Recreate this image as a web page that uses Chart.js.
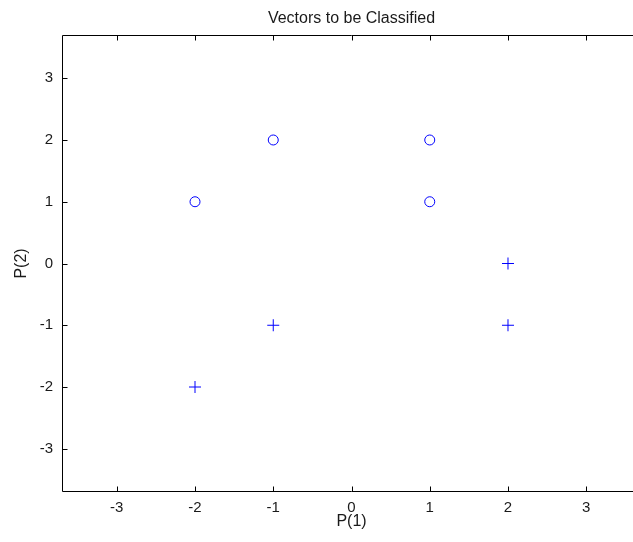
<!DOCTYPE html>
<html>
<head>
<meta charset="utf-8">
<script src="https://cdn.jsdelivr.net/npm/chart.js@4"></script>
<style>
  html, body { margin: 0; padding: 0; background: #fff; overflow: hidden; }
  #wrap { width: 633px; height: 542px; overflow: hidden; }
  canvas { display: block; background: #fff; }
</style>
</head>
<body>
<div id="wrap"><canvas id="chart" width="648" height="542"></canvas></div>
<script>
// class 1 vectors (circles) and class 0 vectors (plus signs)
const circleX = [-2, -1, 1, 1];
const circleY = [1, 2, 2, 1];
const plusX = [-2, -1, 2, 2];
const plusY = [-2, -1, 0, -1];
const tickValues = [-3, -2, -1, 0, 1, 2, 3];
const axisMin = -3.7;
const axisMax = 3.7;

const blue = 'rgb(0,0,255)';
const textColor = '#1a1a1a';
const family = '"Liberation Sans", Arial, sans-serif';
const tickFont = { family: '"Liberation Sans Narrow", "Liberation Sans", Arial, sans-serif', size: 15 };
const labelFont = { family: family, size: 16 };

function toPoints(xs, ys) {
    return xs.map((x, i) => ({ x: x, y: ys[i] }));
}

function integerTicks(s) {
    s.ticks = tickValues.map(v => ({ value: v }));
}

// MATLAB style box with ticks pointing inwards
// (the right side falls just outside the 633px window, as in the reference)
const boxPlugin = {
    id: 'box',
    afterDraw(chart) {
        const ctx = chart.ctx;
        const a = chart.chartArea;
        const xs = chart.scales.x;
        const ys = chart.scales.y;
        const len = 5;
        const L = Math.round(a.left) + 0.5, R = Math.round(a.right) - 0.5;
        const T = Math.round(a.top) + 0.5, B = Math.round(a.bottom) - 0.5;
        ctx.save();
        ctx.strokeStyle = '#000';
        ctx.lineWidth = 1;
        ctx.beginPath();
        ctx.rect(L, T, R - L, B - T);
        tickValues.forEach(v => {
            const px = Math.round(xs.getPixelForValue(v)) + 0.5;
            ctx.moveTo(px, B); ctx.lineTo(px, B - len);
            ctx.moveTo(px, T); ctx.lineTo(px, T + len);
            const py = Math.round(ys.getPixelForValue(v)) + 0.5;
            ctx.moveTo(L, py); ctx.lineTo(L + len, py);
            ctx.moveTo(R, py); ctx.lineTo(R - len, py);
        });
        ctx.stroke();
        ctx.restore();
    }
};

new Chart(document.getElementById('chart'), {
    type: 'scatter',
    data: {
        datasets: [{
            label: 'circles',
            data: toPoints(circleX, circleY),
            pointStyle: 'circle',
            pointRadius: 5,
            borderColor: blue,
            backgroundColor: 'rgba(0,0,0,0)',
            borderWidth: 1
        }, {
            label: 'plus',
            data: toPoints(plusX, plusY),
            pointStyle: 'cross',
            pointRadius: 6,
            borderColor: blue,
            backgroundColor: blue,
            borderWidth: 1
        }]
    },
    options: {
        responsive: false,
        animation: false,
        devicePixelRatio: 1,
        layout: { padding: 0 },
        plugins: {
            legend: { display: false },
            tooltip: { enabled: false },
            title: { display: false }
        },
        scales: {
            // top axis only carries the title, so it is centred over the axes box
            top: {
                type: 'linear',
                position: 'top',
                min: axisMin,
                max: axisMax,
                afterBuildTicks: integerTicks,
                afterFit: s => { s.height = 35; s.paddingLeft = 0; s.paddingRight = 0; },
                grid: { display: false, drawTicks: false },
                border: { display: false },
                ticks: { display: false },
                title: { display: true, text: 'Vectors to be Classified', color: textColor, font: labelFont, padding: { top: 9, bottom: 0 } }
            },
            x: {
                type: 'linear',
                min: axisMin,
                max: axisMax,
                afterBuildTicks: integerTicks,
                afterFit: s => { s.height = 50; s.paddingLeft = 0; s.paddingRight = 0; },
                grid: { display: false, drawTicks: false },
                border: { display: false },
                ticks: { color: textColor, font: tickFont, padding: 7, maxRotation: 0 },
                title: { display: true, text: 'P(1)', color: textColor, font: labelFont, padding: { top: 0, bottom: 10.4 } }
            },
            y: {
                type: 'linear',
                min: axisMin,
                max: axisMax,
                afterBuildTicks: integerTicks,
                afterFit: s => { s.width = 62; s.paddingTop = 0; s.paddingBottom = 0; },
                grid: { display: false, drawTicks: false },
                border: { display: false },
                ticks: { color: textColor, font: tickFont, padding: 9 },
                title: { display: true, text: 'P(2)', color: textColor, font: labelFont, padding: { top: 11.5, bottom: 0 } }
            }
        }
    },
    plugins: [boxPlugin]
});
</script>
</body>
</html>
